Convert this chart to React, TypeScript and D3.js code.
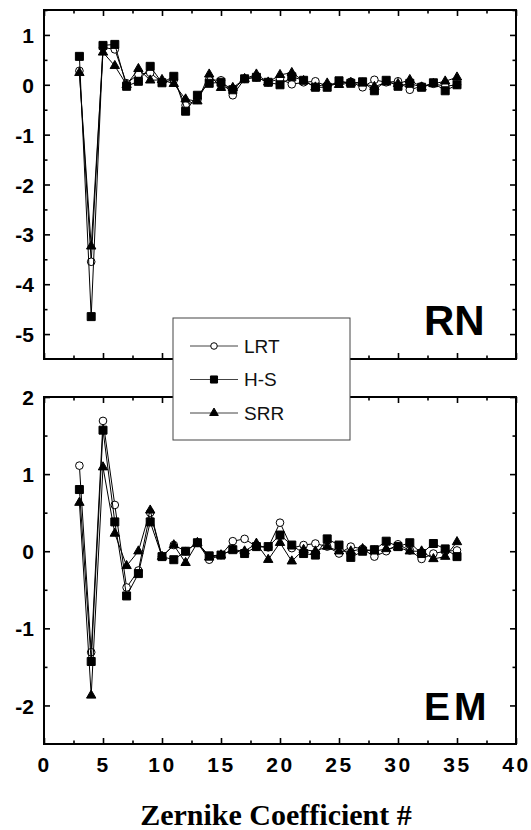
import React, { Component } from 'react';
import * as D3 from 'd3';

// Zernike coefficient index (3..35)
const coefficients = [3, 4, 5, 6, 7, 8, 9, 10, 11, 12, 13, 14, 15, 16, 17, 18, 19, 20, 21, 22, 23, 24, 25, 26, 27, 28, 29, 30, 31, 32, 33, 34, 35];

// RN panel
const rnLRT = [0.28, -3.55, 0.75, 0.71, 0.03, 0.21, 0.24, 0.05, 0.1, -0.41, -0.3, 0.1, 0.09, -0.21, 0.12, 0.15, 0.05, 0.12, 0.01, 0.05, 0.07, -0.03, 0.03, 0.06, -0.05, 0.1, 0.05, 0.07, -0.1, -0.03, 0.02, -0.03, 0.0];
const rnHS = [0.57, -4.65, 0.79, 0.81, -0.03, 0.07, 0.37, 0.04, 0.17, -0.53, -0.21, 0.03, 0.05, -0.1, 0.12, 0.15, 0.05, 0.0, 0.16, 0.09, -0.05, -0.05, 0.08, 0.03, 0.06, -0.12, 0.09, -0.03, 0.03, -0.05, 0.04, -0.12, 0.0];
const rnSRR = [0.24, -3.24, 0.65, 0.38, 0.0, 0.32, 0.09, 0.1, 0.02, -0.29, -0.33, 0.21, -0.06, -0.06, 0.12, 0.21, 0.05, 0.2, 0.24, 0.08, -0.05, 0.03, 0.0, 0.04, 0.03, -0.04, 0.05, 0.02, 0.1, -0.05, 0.02, 0.07, 0.15];

// EM panel
const emLRT = [1.11, -1.31, 1.69, 0.6, -0.47, -0.25, 0.5, -0.07, 0.08, 0.0, 0.11, -0.11, -0.05, 0.13, 0.16, 0.06, 0.05, 0.37, 0.04, 0.08, 0.1, 0.06, -0.03, 0.06, 0.03, -0.07, 0.0, 0.09, 0.01, -0.1, -0.03, 0.0, 0.01];
const emHS = [0.8, -1.43, 1.57, 0.38, -0.58, -0.29, 0.38, -0.07, -0.11, 0.0, 0.11, -0.06, -0.05, 0.02, -0.03, 0.06, 0.06, 0.21, 0.08, -0.03, -0.05, 0.16, 0.08, -0.08, 0.0, 0.02, 0.13, 0.06, 0.11, -0.03, 0.1, 0.03, -0.07];
const emSRR = [0.63, -1.87, 1.09, 0.23, -0.19, 0.0, 0.53, -0.07, 0.08, -0.15, 0.11, -0.08, -0.05, 0.02, 0.0, 0.1, -0.11, 0.11, -0.13, 0.02, 0.0, 0.06, 0.0, 0.0, 0.03, 0.0, 0.03, 0.05, 0.0, 0.0, -0.1, -0.07, 0.12];

const xTicks = [0, 5, 10, 15, 20, 25, 30, 35, 40];
const xMinorTicks = [2.5, 7.5, 12.5, 17.5, 22.5, 27.5, 32.5, 37.5];
const rnTicks = [1, 0, -1, -2, -3, -4, -5];
const rnMinorTicks = [1.5, 0.5, -0.5, -1.5, -2.5, -3.5, -4.5];
const emTicks = [2, 1, 0, -1, -2];
const emMinorTicks = [1.5, 0.5, -0.5, -1.5];
const seriesNames = ['LRT', 'H-S', 'SRR'];

const SANS = 'Liberation Sans, Arial, Helvetica, sans-serif';
const SERIF = 'Liberation Serif, Times New Roman, serif';

// plain hyphen for negatives, like the original figure
const fmt = (d: any) => String(d);

export default class App extends Component
{
	svg: SVGSVGElement | null = null;

	render = () =>
	(
		<svg ref={e => { this.svg = e; }} width={531} height={830}
			style={{ position: 'absolute', left: 0, top: 0, background: 'white' }}></svg>
	)

	componentDidMount()
	{
		const svg = D3.select(this.svg);
		svg.selectAll('*').remove();

		const x = D3.scaleLinear().domain([0, 40]).range([44, 516]);

		const symbols = [D3.symbolCircle, D3.symbolSquare, D3.symbolTriangle];
		const sizes = [46, 64, 38];
		const fills = ['white', 'black', 'black'];

		const panels = [
			{ name: 'RN', domain: [-5.5, 1.5], range: [359, 10], ticks: rnTicks, minor: rnMinorTicks, series: [rnLRT, rnHS, rnSRR], xLabels: false, labelY: 335, spacing: 0, fontSize: 42 },
			{ name: 'EM', domain: [-2.5, 2], range: [744, 397], ticks: emTicks, minor: emMinorTicks, series: [emLRT, emHS, emSRR], xLabels: true, labelY: 720, spacing: 4, fontSize: 39 }
		];

		panels.forEach(p =>
		{
			const y = D3.scaleLinear().domain(p.domain).range(p.range);
			const g = svg.append('g');
			const top = p.range[1], bottom = p.range[0];

			// - Ticks on all four sides, pointing inwards
			const tickAxes = [
				{ axis: D3.axisBottom(x), tr: `translate(0,${bottom})`, major: xTicks, minor: xMinorTicks },
				{ axis: D3.axisTop(x), tr: `translate(0,${top})`, major: xTicks, minor: xMinorTicks },
				{ axis: D3.axisLeft(y), tr: `translate(44,0)`, major: p.ticks, minor: p.minor },
				{ axis: D3.axisRight(y), tr: `translate(516,0)`, major: p.ticks, minor: p.minor }
			];
			tickAxes.forEach(t =>
			{
				g.append('g').attr('transform', t.tr)
					.call((t.axis as any).tickValues(t.major).tickSize(-6).tickFormat(() => ''))
					.call(s => s.select('.domain').remove());
				g.append('g').attr('transform', t.tr)
					.call((t.axis as any).tickValues(t.minor).tickSize(-3.5).tickFormat(() => ''))
					.call(s => s.select('.domain').remove());
			});
			g.selectAll('.tick line').attr('stroke', 'black').attr('stroke-width', 1.6);

			// - Y labels
			const yl = g.append('g').attr('transform', 'translate(44,0)')
				.call(D3.axisLeft(y).tickValues(p.ticks).tickSize(0).tickPadding(10).tickFormat(fmt));
			yl.select('.domain').remove();
			yl.selectAll('text').attr('font-family', SANS).attr('font-size', 21).attr('font-weight', 'bold').attr('fill', 'black').attr('dy', '0.36em');

			if (p.xLabels)
			{
				const xl = g.append('g').attr('transform', `translate(0,${bottom})`)
					.call(D3.axisBottom(x).tickValues(xTicks).tickSize(0).tickPadding(13).tickFormat(fmt));
				xl.select('.domain').remove();
				xl.selectAll('text').attr('font-family', SANS).attr('font-size', 21).attr('font-weight', 'bold')
					.attr('fill', 'black').style('letter-spacing', '2.5px');
			}

			// - Frame
			g.append('rect').attr('x', 44).attr('y', top).attr('width', 472).attr('height', bottom - top)
				.attr('fill', 'none').attr('stroke', 'black').attr('stroke-width', 2);

			// - Series
			const line = D3.line<number>().x((d, i) => x(coefficients[i])).y(d => y(d));
			p.series.forEach((values, k) =>
			{
				g.append('path').datum(values).attr('d', line).attr('fill', 'none').attr('stroke', 'black').attr('stroke-width', 1);
				g.selectAll(null).data(values).enter().append('path')
					.attr('transform', (d, i) => `translate(${x(coefficients[i])},${y(d)})`)
					.attr('d', D3.symbol().type(symbols[k]).size(sizes[k]))
					.attr('fill', fills[k]).attr('stroke', 'black').attr('stroke-width', 1);
			});

			g.append('text').attr('x', 424).attr('y', p.labelY).text(p.name)
				.attr('font-family', SANS).attr('font-size', p.fontSize).attr('font-weight', 'bold')
				.style('letter-spacing', p.spacing + 'px');
		});

		// - Legend
		const lg = svg.append('g');
		lg.append('rect').attr('x', 173).attr('y', 318).attr('width', 177).attr('height', 122)
			.attr('fill', 'white').attr('stroke', '#444').attr('stroke-width', 1);
		const legendY = D3.scalePoint<string>().domain(seriesNames).range([346, 413]);
		const legendSizes = [34, 50, 32];
		seriesNames.forEach((name, k) =>
		{
			const yy = legendY(name) as number;
			lg.append('line').attr('x1', 190).attr('x2', 238).attr('y1', yy).attr('y2', yy).attr('stroke', '#444').attr('stroke-width', 1);
			lg.append('path').attr('transform', `translate(214,${yy})`)
				.attr('d', D3.symbol().type(symbols[k]).size(legendSizes[k]))
				.attr('fill', fills[k]).attr('stroke', 'black').attr('stroke-width', 1);
			lg.append('text').attr('x', 244).attr('y', yy).attr('dy', '0.36em').text(name)
				.attr('font-family', SANS).attr('font-size', 19).attr('fill', '#111');
		});

		// - X title
		svg.append('text').attr('x', 276).attr('y', 825).attr('text-anchor', 'middle')
			.text('Zernike Coefficient #')
			.attr('font-family', SERIF).attr('font-size', 30).attr('font-weight', 'bold');
	}
}
